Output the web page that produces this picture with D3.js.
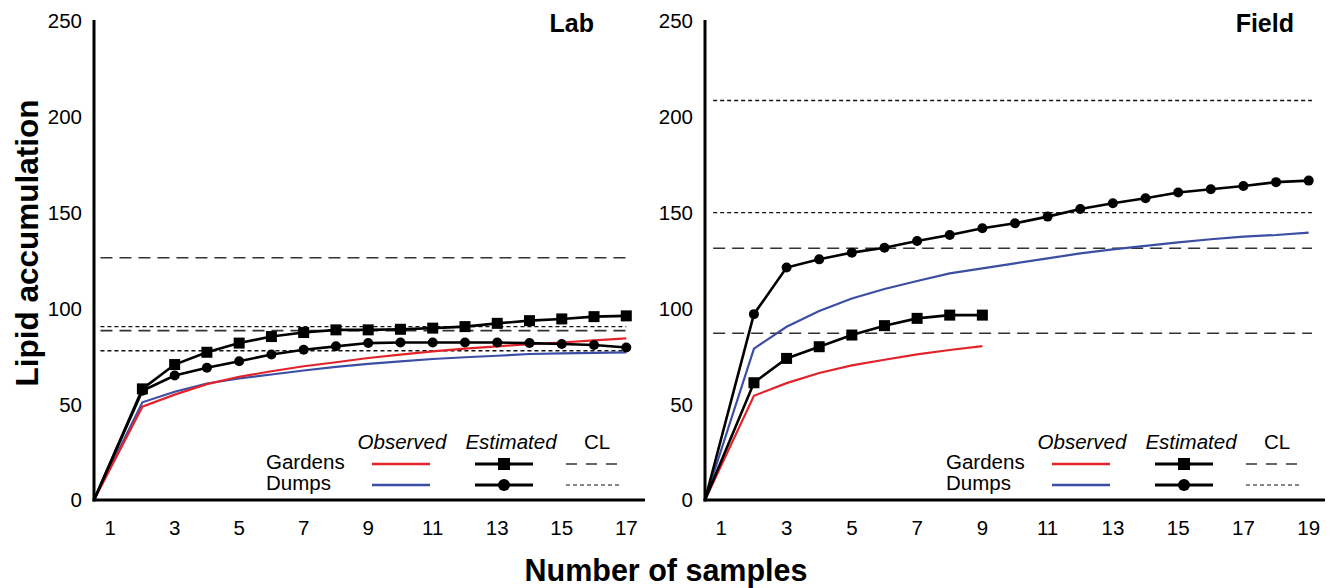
<!DOCTYPE html>
<html>
<head>
<meta charset="utf-8">
<script src="https://cdn.jsdelivr.net/npm/d3@7"></script>
<style>
  body { margin: 0; background: #fff; }
  svg { display: block; font-family: "Liberation Sans", Arial, sans-serif; }
</style>
</head>
<body>
<svg width="1333" height="588"></svg>
<script>
// ---- data ----
const yTicks = [0, 50, 100, 150, 200, 250];
const labTicks = [1, 3, 5, 7, 9, 11, 13, 15, 17];
const fieldTicks = [1, 3, 5, 7, 9, 11, 13, 15, 17, 19];

// curves start on the y axis (x = 0.5) at zero
const labSamples = [0.5, 2, 3, 4, 5, 6, 7, 8, 9, 10, 11, 12, 13, 14, 15, 16, 17];
const labGardensObs = [0, 48.7, 55, 60.5, 64.3, 67.2, 69.8, 71.9, 74.1, 75.9, 77.6, 79, 80.2, 81.4, 82.2, 83.3, 84.4];
const labDumpsObs = [0, 51, 56.5, 60.8, 63.4, 65.5, 67.6, 69.5, 71, 72.4, 73.6, 74.5, 75.3, 76.2, 76.5, 76.8, 77];
const labGardensEst = [0, 58, 70.7, 77.1, 81.9, 85.3, 87.4, 88.8, 88.8, 89.1, 89.7, 90.5, 92.2, 93.6, 94.5, 95.7, 96.1];
const labDumpsEst = [0, 57, 65, 69, 72.4, 75.9, 78.4, 80.2, 81.9, 82.2, 82.2, 82.2, 82.2, 81.9, 81.4, 80.9, 79.6];
const labGardensCL = [126.4, 88.4];
const labDumpsCL = [90.5, 77.9];

const fieldSamplesGardens = [0.5, 2, 3, 4, 5, 6, 7, 8, 9];
const fieldGardensObs = [0, 54.4, 61, 66.3, 70.3, 73.2, 76, 78.3, 80.3];
const fieldGardensEst = [0, 61.2, 73.9, 80, 86.1, 91, 94.8, 96.5, 96.5];
const fieldSamplesDumps = [0.5, 2, 3, 4, 5, 6, 7, 8, 9, 10, 11, 12, 13, 14, 15, 16, 17, 18, 19];
const fieldDumpsObs = [0, 79, 90.4, 98.6, 105.2, 110.1, 114.3, 118.3, 120.9, 123.5, 126.1, 128.7, 130.8, 132.6, 134.5, 136.1, 137.5, 138.3, 139.5];
const fieldDumpsEst = [0, 97, 121.3, 125.6, 129.1, 131.7, 135.2, 138.3, 141.8, 144.4, 147.9, 151.9, 154.9, 157.5, 160.5, 162.2, 163.9, 165.9, 166.7];
const fieldGardensCL = [131.4, 87];
const fieldDumpsCL = [208.5, 150];

const red = "#e3232b", blue = "#3c4ea3";
const svg = d3.select("svg");
const y = d3.scaleLinear().domain([0, 250]).range([500, 21]);

function zip(xs, ys) {
  return xs.map((v, i) => [v, ys[i]]);
}

function drawPanel(p) {
  const x = d3.scaleLinear().domain(p.domain).range(p.range);
  const g = svg.append("g");
  const line = d3.line().x(d => x(d[0])).y(d => y(d[1]));

  // confidence limit lines
  p.gardensCL.forEach(v => {
    g.append("line")
      .attr("x1", x(p.clExtent[0])).attr("x2", x(p.clExtent[1]))
      .attr("y1", y(v)).attr("y2", y(v))
      .attr("stroke", "#333").attr("stroke-width", 1.6)
      .attr("stroke-dasharray", "12,7");
  });
  p.dumpsCL.forEach(v => {
    g.append("line")
      .attr("x1", x(p.clExtent[0])).attr("x2", x(p.clExtent[1]))
      .attr("y1", y(v)).attr("y2", y(v))
      .attr("stroke", "#111").attr("stroke-width", 1.4)
      .attr("stroke-dasharray", "4,3");
  });

  // observed curves
  g.append("path").datum(zip(p.dumpsX, p.dumpsObs))
    .attr("d", line).attr("fill", "none")
    .attr("stroke", blue).attr("stroke-width", 2.2);
  g.append("path").datum(zip(p.gardensX, p.gardensObs))
    .attr("d", line).attr("fill", "none")
    .attr("stroke", red).attr("stroke-width", 2.2);

  // estimated curves with markers
  const dEst = zip(p.dumpsX, p.dumpsEst);
  g.append("path").datum(dEst)
    .attr("d", line).attr("fill", "none")
    .attr("stroke", "#000").attr("stroke-width", 2.6);
  g.selectAll(null).data(dEst.slice(1)).enter().append("circle")
    .attr("cx", d => x(d[0])).attr("cy", d => y(d[1]))
    .attr("r", 5).attr("fill", "#000");

  const gEst = zip(p.gardensX, p.gardensEst);
  g.append("path").datum(gEst)
    .attr("d", line).attr("fill", "none")
    .attr("stroke", "#000").attr("stroke-width", 2.6);
  g.selectAll(null).data(gEst.slice(1)).enter().append("rect")
    .attr("x", d => x(d[0]) - 5.5).attr("y", d => y(d[1]) - 5.5)
    .attr("width", 11).attr("height", 11).attr("fill", "#000");

  // axes (plain lines, no tick marks)
  g.append("line")
    .attr("x1", p.range[0]).attr("x2", p.range[0])
    .attr("y1", y(250) - 1).attr("y2", y(0) + 1.5)
    .attr("stroke", "#000").attr("stroke-width", 3);
  g.append("line")
    .attr("x1", p.range[0] - 1.5).attr("x2", p.range[1])
    .attr("y1", y(0)).attr("y2", y(0))
    .attr("stroke", "#000").attr("stroke-width", 3);

  g.selectAll(null).data(yTicks).enter().append("text")
    .attr("x", p.range[0] - 12).attr("y", d => y(d)).attr("dy", "0.36em")
    .attr("text-anchor", "end").attr("font-size", 20.5)
    .text(d => d);
  g.selectAll(null).data(p.ticks).enter().append("text")
    .attr("x", d => x(d)).attr("y", 535)
    .attr("text-anchor", "middle").attr("font-size", 20.5)
    .text(d => d);

  g.append("text")
    .attr("x", p.range[1] - p.titleInset).attr("y", 32)
    .attr("text-anchor", "end").attr("font-size", 25).attr("font-weight", "bold")
    .text(p.title);

  // legend, anchored to the right end of the x axis
  const r = p.range[1];
  const lg = g.append("g").attr("font-size", 20.5);
  lg.append("text").attr("x", r - 243).attr("y", 449).attr("text-anchor", "middle")
    .attr("font-style", "italic").text("Observed");
  lg.append("text").attr("x", r - 134).attr("y", 449).attr("text-anchor", "middle")
    .attr("font-style", "italic").text("Estimated");
  lg.append("text").attr("x", r - 48).attr("y", 449).attr("text-anchor", "middle")
    .text("CL");
  lg.append("text").attr("x", r - 379).attr("y", 469).text("Gardens");
  lg.append("text").attr("x", r - 379).attr("y", 490).text("Dumps");

  const rowG = 464, rowD = 485;
  lg.append("line").attr("x1", r - 273).attr("x2", r - 215).attr("y1", rowG).attr("y2", rowG)
    .attr("stroke", red).attr("stroke-width", 2.4);
  lg.append("line").attr("x1", r - 273).attr("x2", r - 215).attr("y1", rowD).attr("y2", rowD)
    .attr("stroke", blue).attr("stroke-width", 2.4);
  lg.append("line").attr("x1", r - 170).attr("x2", r - 112).attr("y1", rowG).attr("y2", rowG)
    .attr("stroke", "#000").attr("stroke-width", 2.8);
  lg.append("rect").attr("x", r - 147).attr("y", rowG - 6).attr("width", 12).attr("height", 12)
    .attr("fill", "#000");
  lg.append("line").attr("x1", r - 170).attr("x2", r - 112).attr("y1", rowD).attr("y2", rowD)
    .attr("stroke", "#000").attr("stroke-width", 2.8);
  lg.append("circle").attr("cx", r - 141).attr("cy", rowD).attr("r", 6).attr("fill", "#000");
  lg.append("line").attr("x1", r - 79).attr("x2", r - 23).attr("y1", rowG).attr("y2", rowG)
    .attr("stroke", "#333").attr("stroke-width", 1.4).attr("stroke-dasharray", "11,9");
  lg.append("line").attr("x1", r - 79).attr("x2", r - 23).attr("y1", rowD).attr("y2", rowD)
    .attr("stroke", "#111").attr("stroke-width", 1.2).attr("stroke-dasharray", "4,3");
}

drawPanel({
  title: "Lab", titleInset: 51, domain: [0.5, 17.58], range: [94, 645], ticks: labTicks,
  clExtent: [0.7, 17], gardensCL: labGardensCL, dumpsCL: labDumpsCL,
  gardensX: labSamples, gardensObs: labGardensObs, gardensEst: labGardensEst,
  dumpsX: labSamples, dumpsObs: labDumpsObs, dumpsEst: labDumpsEst
});

drawPanel({
  title: "Field", titleInset: 31, domain: [0.5, 19.5], range: [705, 1325], ticks: fieldTicks,
  clExtent: [0.75, 19.1], gardensCL: fieldGardensCL, dumpsCL: fieldDumpsCL,
  gardensX: fieldSamplesGardens, gardensObs: fieldGardensObs, gardensEst: fieldGardensEst,
  dumpsX: fieldSamplesDumps, dumpsObs: fieldDumpsObs, dumpsEst: fieldDumpsEst
});

// shared axis titles
svg.append("text")
  .attr("transform", "translate(38,243) rotate(-90)")
  .attr("text-anchor", "middle").attr("font-size", 31.5).attr("font-weight", "bold")
  .text("Lipid accumulation");
svg.append("text")
  .attr("x", 666).attr("y", 581)
  .attr("text-anchor", "middle").attr("font-size", 30.5).attr("font-weight", "bold")
  .text("Number of samples");
</script>
</body>
</html>
